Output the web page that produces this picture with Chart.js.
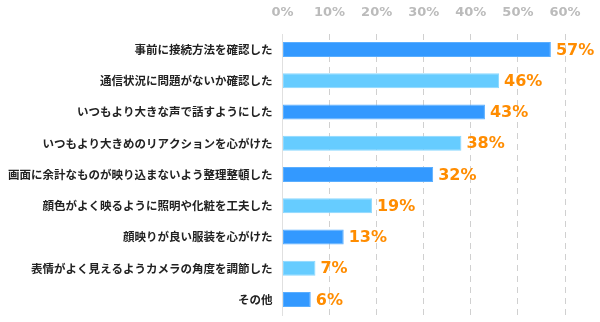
<!DOCTYPE html>
<html><head><meta charset="utf-8">
<script src="https://cdn.jsdelivr.net/npm/chart.js@4"></script>
<style>html,body{margin:0;padding:0;background:#fff}#w{width:600px;height:322px}</style>
</head><body><div id="w"><canvas id="c"></canvas></div>
<script>
const categories = ["事前に接続方法を確認した","通信状況に問題がないか確認した","いつもより大きな声で話すようにした","いつもより大きめのリアクションを心がけた","画面に余計なものが映り込まないよう整理整頓した","顔色がよく映るように照明や化粧を工夫した","顔映りが良い服装を心がけた","表情がよく見えるようカメラの角度を調節した","その他"];
const values = [57,46,43,38,32,19,13,7,6];
const tickValues = [0,10,20,30,40,50,60];
const tickLabels = ["0%","10%","20%","30%","40%","50%","60%"];
const barColors = values.map((v,i)=> i%2===0 ? "#3399FF" : "#66CCFF");
const borderColors = values.map((v,i)=> i%2===0 ? "#5AAEFF" : "#8AD8FF");

const labelPlugin = {
  id:'valLabels',
  afterDraw(chart){
    const ctx = chart.ctx;
    const meta = chart.getDatasetMeta(0);
    const xs = chart.scales.x;
    ctx.save();
    ctx.font = "bold 16px 'DejaVu Sans', Verdana, sans-serif";
    ctx.fillStyle = "#FF8C00";
    ctx.textAlign = "left";
    ctx.textBaseline = "middle";
    meta.data.forEach((bar,i)=>{
      ctx.fillText(values[i]+"%", bar.x+5, bar.y+1);
    });
    ctx.font = "bold 13px 'DejaVu Sans', Verdana, sans-serif";
    ctx.fillStyle = "#BBBBBB";
    ctx.textAlign = "center";
    tickValues.forEach((v,i)=>{
      ctx.fillText(tickLabels[i], xs.getPixelForValue(v), 13);
    });
    ctx.restore();
  }
};

new Chart(document.getElementById('c'),{
  type:'bar',
  data:{labels:categories,datasets:[{data:values,backgroundColor:barColors,borderColor:borderColors,borderWidth:1,borderSkipped:false,categoryPercentage:1,barPercentage:0.48}]},
  options:{
    indexAxis:'y',responsive:true,maintainAspectRatio:false,animation:false,
    layout:{padding:{left:0,right:35,top:34,bottom:7}},
    plugins:{legend:{display:false},tooltip:{enabled:false}},
    scales:{
      x:{position:'top',min:0,max:60,
        afterBuildTicks(s){s.ticks=tickValues.map(v=>({value:v}));},
        ticks:{display:false},
        grid:{color:"#D0D0D0",drawTicks:false,tickLength:0},
        border:{display:false,dash:[6,5]}
      },
      y:{
        afterFit(s){s.paddingTop=0;s.paddingBottom=0;},
        ticks:{color:"#222",font:{family:"'Noto Sans CJK JP', sans-serif",size:11.5,weight:'bold'},padding:10},
        grid:{display:false,drawTicks:false},
        border:{display:true,color:"#E0E0E0"}
      }
    }
  },
  plugins:[labelPlugin]
});
</script></body></html>
